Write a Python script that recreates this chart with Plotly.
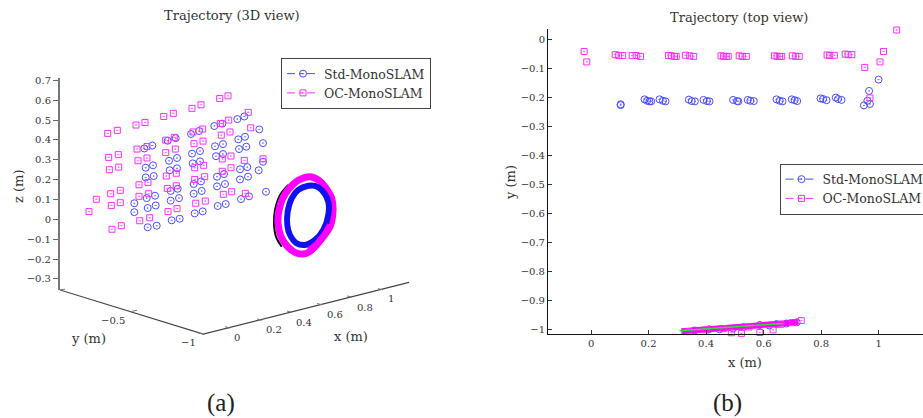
import plotly.graph_objects as go

W, H = 923, 418
SERIF = "DejaVu Serif"
BLUE = "#4a4aff"
MAG = "#ff2cff"
NAMES = ["Std-MonoSLAM", "OC-MonoSLAM"]

# ---- Panel (a): horizontal view position u and height z ----
std_a_u = [144.3,152.3,145.7,153,145.7,153.7,146.7,155,134.3,134.3,147.7,155.7,147.7,156.7,
           167.7,175.7,169,177,169.7,177,170.7,177.7,170.7,179,171.7,179.7,
           191,199,192,200,192.7,200,193.7,201,193.7,201.7,194.7,202.7,
           214.3,222.3,215,223,216,223,217,224,217,225,217.7,225.7,
           237.3,244.3,259.3,238.3,245,263,239,246.3,263,240,247.3,258.7,240,248,266,241,249]
std_a_z = [.357,.372,.260,.272,.211,.218,.107,.119,.081,.036,.057,.070,-.040,-.032,
           .396,.409,.295,.309,.247,.257,.143,.154,.094,.107,-.005,.003,
           .430,.445,.331,.344,.282,.292,.178,.191,.129,.143,.030,.040,
           .470,.482,.368,.379,.318,.329,.215,.228,.166,.178,.067,.077,
           .505,.518,.453,.403,.416,.384,.354,.366,.290,.252,.263,.247,.201,.215,.139,.102,.116]
oc_a_u = [89,96.3,111.3,110.7,120.3,120.3,109.3,118.7,108.7,118.3,107.7,117.3,136,145,163.7,173.3,192,201,219.7,228,
          137,147,138,147,139,148,139,148.7,139.7,149.7,112,121.3,
          165.7,174.3,165.7,175.3,166.3,176.3,167.3,176.3,168,177,
          193,202.7,194,203,194.7,203.7,194.7,204.7,195.7,205.3,
          220.3,228.7,221.3,230,222.3,231,222.3,231,223.3,231.7,
          248.3,250.7,244.3,263,245.3]
oc_a_z = [.039,.101,.070,.129,.084,.146,.250,.263,.312,.326,.433,.448,.475,.488,.518,.534,.559,.577,.609,.622,
          .354,.367,.295,.309,.174,.186,.116,.129,-.007,.008,-.050,-.032,
          .399,.413,.336,.354,.218,.232,.156,.169,.039,.054,
          .440,.455,.381,.394,.260,.272,.201,.215,.081,.092,
          .483,.500,.424,.440,.304,.319,.242,.260,.126,.139,
          .539,.461,.297,.305,.131]

ring_blue_u = [308.3,298.3,291.7,287.7,287.3,290,296.7,305,315,323.3,328.3,328.3,321.7,315,308.3]
ring_blue_z = [.169,.148,.106,.039,-.029,-.079,-.121,-.129,-.104,-.054,.022,.089,.148,.169,.169]
ring_mag_u = [310,298.8,289.3,282.7,278.7,278,281,287.7,297,306.7,315,323.3,330,333,331.7,325,318.3,310]
ring_mag_z = [.215,.198,.156,.106,.039,-.020,-.087,-.138,-.171,-.171,-.138,-.087,-.037,.039,.106,.164,.198,.215]
ring_over_u = [308,315,323.3,329]
ring_over_z = [-.150,-.125,-.075,-.025]
ring_black_u = [288.3,280,275,274,276,281.7]
ring_black_z = [.173,.122,.047,-.020,-.087,-.138]

z_ticks = [-0.3,-0.2,-0.1,0,0.1,0.2,0.3,0.4,0.5,0.6,0.7]
z_labels = ["−0.3","−0.2","−0.1","0","0.1","0.2","0.3","0.4","0.5","0.6","0.7"]

floor_u = [60,203.3,409]
floor_z = [-.356,-.578,-.318]
floor_tick_u = [60,65,None,132,137,None,203.3,198,None,230,225,None,262,257,None,292,287,None,322,317,None,352,347,None,383,378]
floor_tick_z = [-.356,-.352,None,-.464,-.458,None,-.578,-.572,None,-.548,-.541,None,-.509,-.502,None,-.469,-.462,None,-.431,-.424,None,-.393,-.386,None,-.356,-.349]
floor_label_u = [52,113,188,237,274,304,335,365,391]
floor_label_z = [-.400,-.511,-.619,-.594,-.554,-.519,-.479,-.443,-.400]
floor_labels = ["0","−0.5","−1","0","0.2","0.4","0.6","0.8","1"]

# ---- Panel (b): top view ----
std_b_x = [.103,.103,.186,.195,.203,.209,.238,.250,.259,.340,.350,.361,.391,.403,.412,.494,.508,.512,.545,.554,.566,
           .645,.656,.666,.698,.708,.717,.798,.807,.819,.851,.859,.871,.949,.961,.967,.970,1.000]
std_b_y = [-.228,-.225,-.208,-.213,-.215,-.215,-.208,-.213,-.215,-.209,-.214,-.215,-.210,-.214,-.215,-.210,-.214,-.215,-.210,-.213,-.214,
           -.208,-.213,-.215,-.208,-.211,-.214,-.205,-.207,-.211,-.202,-.207,-.210,-.229,-.213,-.179,-.224,-.140]
oc_b_x = [-.024,-.015,.084,.096,.110,.143,.157,.172,.269,.279,.290,.296,.328,.343,.357,.452,.461,.470,.477,.515,.526,.540,
          .638,.647,.656,.663,.700,.712,.724,.821,.830,.846,.884,.894,.907,.952,.970,1.005,1.017,1.063]
oc_b_y = [-.043,-.079,-.054,-.057,-.057,-.057,-.057,-.060,-.057,-.058,-.060,-.060,-.056,-.058,-.060,-.058,-.060,-.060,-.060,-.058,-.060,-.060,
          -.058,-.060,-.060,-.060,-.058,-.060,-.060,-.055,-.057,-.056,-.052,-.054,-.054,-.098,-.203,-.079,-.043,.031]

band_x = [.314,.412,.517,.610,.679,.720]
band_y = [-1.008,-1.001,-.994,-.989,-.980,-.975]
band_std_x = [.447,.494,.529,.587,.645,.715,.36,.41,.62,.68]
band_std_y = [-1.001,-.998,-.994,-.986,-.983,-.977,-1.005,-1.001,-.988,-.981]
band_oc_x = [.488,.523,.587,.633,.731,.34,.40,.46,.55,.66,.70]
band_oc_y = [-1.013,-1.015,-1.012,-1.003,-.971,-1.009,-1.003,-.999,-.993,-.984,-.978]
band_green_x = [.308,.668]
band_green_y = [-1.006,-.981]

x_b_ticks = [0,0.2,0.4,0.6,0.8,1]
y_b_ticks = [0,-0.1,-0.2,-0.3,-0.4,-0.5,-0.6,-0.7,-0.8,-0.9,-1]
y_b_labels = ["0","−0.1","−0.2","−0.3","−0.4","−0.5","−0.6","−0.7","−0.8","−0.9","−1"]


def mk(symbol, color, size):
    return dict(symbol=symbol, size=size, color=color, line=dict(color=color, width=1))


fig = go.Figure()
CIRC = mk("circle-open-dot", BLUE, 7)
SQ = mk("square-open-dot", MAG, 6)

# panel a
fig.add_trace(go.Scatter(x=floor_u, y=floor_z, mode="lines", line=dict(color="#444", width=1.2),
                         xaxis="x", yaxis="y3", showlegend=False))
fig.add_trace(go.Scatter(x=floor_tick_u, y=floor_tick_z, mode="lines", line=dict(color="#777", width=1),
                         xaxis="x", yaxis="y3", showlegend=False))
fig.add_trace(go.Scatter(x=std_a_u, y=std_a_z, mode="markers", marker=CIRC, xaxis="x", yaxis="y", showlegend=False))
fig.add_trace(go.Scatter(x=oc_a_u, y=oc_a_z, mode="markers", marker=SQ, xaxis="x", yaxis="y", showlegend=False))
fig.add_trace(go.Scatter(x=ring_black_u, y=ring_black_z, mode="lines", line=dict(color="black", width=2, shape="spline"),
                         xaxis="x", yaxis="y", showlegend=False))
fig.add_trace(go.Scatter(x=ring_mag_u, y=ring_mag_z, mode="lines", line=dict(color="#ff00ff", width=7, shape="spline"),
                         xaxis="x", yaxis="y", showlegend=False))
fig.add_trace(go.Scatter(x=ring_blue_u, y=ring_blue_z, mode="lines", line=dict(color="#1010f0", width=6, shape="spline"),
                         xaxis="x", yaxis="y", showlegend=False))
fig.add_trace(go.Scatter(x=ring_over_u, y=ring_over_z, mode="lines", line=dict(color="#ff00ff", width=4, shape="spline"),
                         xaxis="x", yaxis="y", showlegend=False))

# panel b
fig.add_trace(go.Scatter(x=std_b_x, y=std_b_y, mode="markers", marker=CIRC, xaxis="x2", yaxis="y2", showlegend=False,
                         cliponaxis=False))
fig.add_trace(go.Scatter(x=oc_b_x, y=oc_b_y, mode="markers", marker=SQ, xaxis="x2", yaxis="y2", showlegend=False,
                         cliponaxis=False))
fig.add_trace(go.Scatter(x=band_std_x, y=band_std_y, mode="markers", marker=CIRC, xaxis="x2", yaxis="y2",
                         showlegend=False, cliponaxis=False))
fig.add_trace(go.Scatter(x=band_x, y=band_y, mode="lines", line=dict(color="#ff00ff", width=6),
                         xaxis="x2", yaxis="y2", showlegend=False, cliponaxis=False))
fig.add_trace(go.Scatter(x=band_oc_x, y=band_oc_y, mode="markers", marker=SQ, xaxis="x2", yaxis="y2",
                         showlegend=False, cliponaxis=False))
fig.add_trace(go.Scatter(x=band_green_x, y=band_green_y, mode="lines", line=dict(color="#30e030", width=1.5),
                         xaxis="x2", yaxis="y2", showlegend=False, cliponaxis=False))

# legend entries
for leg, xa, ya in (("legend", "x", "y"), ("legend2", "x2", "y2")):
    for name, color, sym, size in ((NAMES[0], BLUE, "circle-open-dot", 7), (NAMES[1], MAG, "square-open-dot", 6)):
        fig.add_trace(go.Scatter(x=[None], y=[None], name=name, mode="lines+markers", legend=leg, xaxis=xa, yaxis=ya,
                                 line=dict(color=color, width=1, dash="8px,4px,4px,4px"),
                                 marker=mk(sym, color, size)))


def px_x(p):
    return p / W


def px_y(p):
    return 1 - p / H


def note(text, x, y, size=10, xref="paper", yref="paper", angle=0, family=SERIF, color="#333"):
    return dict(text=text, x=x, y=y, xref=xref, yref=yref, showarrow=False, textangle=angle,
                font=dict(family=family, size=size, color=color), xanchor="center", yanchor="middle")


annots = [
    note("Trajectory (3D view)", px_x(232), px_y(16), 13),
    note("Trajectory (top view)", px_x(739), px_y(17), 13),
    note("z (m)", px_x(18), px_y(187), 13, angle=-90),
    note("y (m)", px_x(88), px_y(338), 13),
    note("x (m)", px_x(351), px_y(336), 13),
    note("y (m)", px_x(511), px_y(182), 13, angle=-90),
    note("x (m)", px_x(745), px_y(362), 13),
    note("(a)", px_x(221), px_y(403), 25, family="Liberation Serif", color="#222"),
    note("(b)", px_x(727), px_y(403), 25, family="Liberation Serif", color="#222"),
]
for lab, u, z in zip(floor_labels, floor_label_u, floor_label_z):
    annots.append(note(lab, u, z, 10, xref="x", yref="y3"))

tick_font = dict(family=SERIF, size=10, color="#333")
legend_common = dict(bgcolor="white", bordercolor="#444", borderwidth=1, xanchor="left", yanchor="top",
                     font=dict(family=SERIF, size=12.5, color="#333"), tracegroupgap=0, itemwidth=32)

fig.update_layout(
    width=W, height=H, margin=dict(l=0, r=0, t=0, b=0, autoexpand=False), autosize=False,
    paper_bgcolor="white", plot_bgcolor="rgba(0,0,0,0)", annotations=annots,
    xaxis=dict(domain=[px_x(60), px_x(430)], range=[60, 430], visible=False, automargin=False),
    yaxis=dict(domain=[px_y(290), px_y(78)], range=[-.356, .712], anchor="x", position=px_x(60), automargin=False,
               tickvals=z_ticks, ticktext=z_labels, ticks="outside", ticklen=5, tickcolor="#666",
               showgrid=False, zeroline=False, showline=True, linecolor="#777", linewidth=2, tickfont=tick_font),
    yaxis3=dict(domain=[px_y(350), px_y(70)], range=[-.6584, .7518], anchor="x", visible=False, automargin=False),
    xaxis2=dict(domain=[px_x(548), 1], range=[-.1498, 1.1545], anchor="y2", tickvals=x_b_ticks, automargin=False,
                ticktext=["0", "0.2", "0.4", "0.6", "0.8", "1"], ticks="inside", ticklen=4, tickcolor="#333",
                showgrid=False, zeroline=False, showline=True, linecolor="#111", linewidth=1, tickfont=tick_font),
    yaxis2=dict(domain=[px_y(334), px_y(29)], range=[-1.0172, .0345], anchor="x2", tickvals=y_b_ticks, automargin=False,
                ticktext=y_b_labels, ticks="inside", ticklen=4, tickcolor="#333",
                showgrid=False, zeroline=False, showline=True, linecolor="#111", linewidth=1, tickfont=tick_font),
    legend=dict(x=px_x(281), y=px_y(58), **legend_common),
    legend2=dict(x=px_x(779.5), y=px_y(163.5), **legend_common),
)

fig.write_html("out.html", config=dict(displayModeBar=False),
               post_script="document.body.style.margin='0';document.documentElement.style.margin='0';")
